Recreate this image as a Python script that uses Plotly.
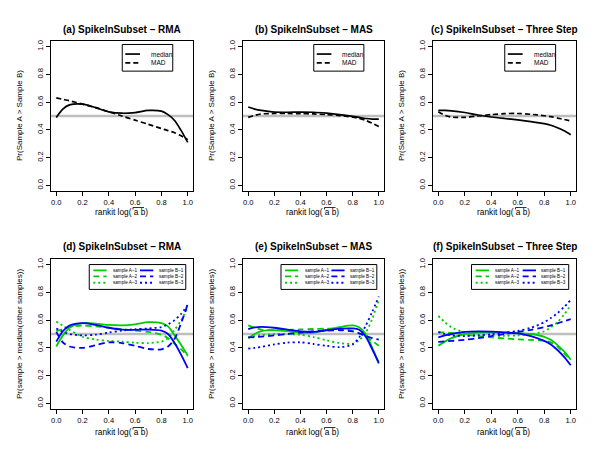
import plotly.graph_objects as go

# ---------------- data ----------------
X = [0, 0.05, 0.1, 0.2, 0.3, 0.4, 0.5, 0.6, 0.7, 0.8, 0.85, 0.9, 0.95, 1.0]

# top row: Pr(Sample A > Sample B)
rma_median = [0.49, 0.55, 0.58, 0.586, 0.56, 0.53, 0.52, 0.525, 0.54, 0.535, 0.51, 0.468, 0.395, 0.31]
rma_mad = [0.63, 0.62, 0.61, 0.585, 0.56, 0.53, 0.50, 0.47, 0.44, 0.41, 0.395, 0.38, 0.357, 0.33]
mas_median = [0.565, 0.55, 0.54, 0.528, 0.527, 0.528, 0.527, 0.52, 0.51, 0.497, 0.49, 0.482, 0.478, 0.478]
mas_mad = [0.49, 0.505, 0.515, 0.518, 0.518, 0.517, 0.515, 0.51, 0.503, 0.492, 0.482, 0.468, 0.448, 0.425]
ts_median = [0.54, 0.54, 0.537, 0.525, 0.507, 0.493, 0.482, 0.472, 0.46, 0.445, 0.433, 0.415, 0.393, 0.365]
ts_mad = [0.53, 0.505, 0.492, 0.49, 0.5, 0.51, 0.517, 0.518, 0.512, 0.502, 0.495, 0.485, 0.475, 0.465]

# bottom row: Pr(sample > median(other samples))
rma_A1 = [0.41, 0.49, 0.545, 0.578, 0.575, 0.565, 0.562, 0.57, 0.585, 0.578, 0.555, 0.49, 0.42, 0.345]
rma_A2 = [0.52, 0.535, 0.55, 0.56, 0.555, 0.545, 0.535, 0.525, 0.515, 0.495, 0.47, 0.43, 0.39, 0.34]
rma_A3 = [0.59, 0.56, 0.53, 0.48, 0.46, 0.45, 0.445, 0.437, 0.435, 0.445, 0.47, 0.53, 0.6, 0.69]
rma_B1 = [0.445, 0.52, 0.56, 0.578, 0.565, 0.545, 0.532, 0.53, 0.532, 0.525, 0.5, 0.435, 0.35, 0.255]
rma_B2 = [0.515, 0.44, 0.41, 0.4, 0.42, 0.44, 0.435, 0.415, 0.392, 0.39, 0.41, 0.465, 0.58, 0.715]
rma_B3 = [0.54, 0.515, 0.5, 0.49, 0.495, 0.51, 0.525, 0.535, 0.54, 0.55, 0.57, 0.6, 0.645, 0.71]

mas_A1 = [0.47, 0.5, 0.52, 0.528, 0.52, 0.51, 0.51, 0.53, 0.55, 0.562, 0.548, 0.5, 0.4, 0.286]
mas_A2 = [0.562, 0.545, 0.532, 0.527, 0.529, 0.533, 0.536, 0.538, 0.536, 0.522, 0.505, 0.48, 0.45, 0.415]
mas_A3 = [0.476, 0.485, 0.492, 0.5, 0.5, 0.495, 0.478, 0.455, 0.435, 0.43, 0.455, 0.51, 0.61, 0.745]
mas_B1 = [0.535, 0.548, 0.552, 0.545, 0.532, 0.518, 0.515, 0.527, 0.538, 0.54, 0.53, 0.48, 0.39, 0.293]
mas_B2 = [0.476, 0.478, 0.481, 0.49, 0.5, 0.51, 0.52, 0.525, 0.527, 0.519, 0.505, 0.485, 0.47, 0.46]
mas_B3 = [0.395, 0.4, 0.407, 0.425, 0.438, 0.44, 0.428, 0.415, 0.405, 0.425, 0.475, 0.56, 0.66, 0.77]

ts_A1 = [0.415, 0.445, 0.47, 0.5, 0.51, 0.512, 0.51, 0.507, 0.5, 0.48, 0.458, 0.42, 0.375, 0.315]
ts_A2 = [0.514, 0.512, 0.508, 0.495, 0.485, 0.475, 0.468, 0.462, 0.457, 0.452, 0.44, 0.41, 0.36, 0.315]
ts_A3 = [0.63, 0.585, 0.548, 0.51, 0.495, 0.488, 0.487, 0.49, 0.498, 0.52, 0.548, 0.585, 0.64, 0.71]
ts_B1 = [0.475, 0.49, 0.5, 0.515, 0.519, 0.517, 0.512, 0.505, 0.485, 0.45, 0.425, 0.385, 0.335, 0.275]
ts_B2 = [0.443, 0.447, 0.45, 0.458, 0.47, 0.485, 0.5, 0.515, 0.53, 0.55, 0.562, 0.577, 0.592, 0.607]
ts_B3 = [0.514, 0.5, 0.49, 0.485, 0.49, 0.498, 0.508, 0.522, 0.545, 0.585, 0.615, 0.65, 0.695, 0.745]

TITLES = ["(a) SpikeInSubset \u2013 RMA", "(b) SpikeInSubset \u2013 MAS", "(c) SpikeInSubset \u2013 Three Step",
          "(d) SpikeInSubset \u2013 RMA", "(e) SpikeInSubset \u2013 MAS", "(f) SpikeInSubset \u2013 Three Step"]
YTITLE_TOP = "Pr(Sample A > Sample B)"
YTITLE_BOTTOM = "Pr(sample > median(other samples))"
TICKS = [0.0, 0.2, 0.4, 0.6, 0.8, 1.0]
TICK_TEXT = ["0.0", "0.2", "0.4", "0.6", "0.8", "1.0"]
TOP_NAMES = ["median", "MAD"]
BOTTOM_NAMES = ["sample A\u20131", "sample A\u20132", "sample A\u20133", "sample B\u20131", "sample B\u20132", "sample B\u20133"]
REF_LEVEL = 0.5

top_series = [(rma_median, rma_mad), (mas_median, mas_mad), (ts_median, ts_mad)]
bottom_series = [(rma_A1, rma_A2, rma_A3, rma_B1, rma_B2, rma_B3),
                 (mas_A1, mas_A2, mas_A3, mas_B1, mas_B2, mas_B3),
                 (ts_A1, ts_A2, ts_A3, ts_B1, ts_B2, ts_B3)]

# ---------------- styling ----------------
W, H = 600, 464
FONT = "Liberation Sans, Arial, Helvetica, sans-serif"
GREEN = "#00CD00"
BLUE = "#0000FF"
GREY = "#BEBEBE"
COLS_PX = [(51, 193), (243, 384), (433, 576)]
ROWS_PX = [(41, 191), (259, 409)]
TOP_DASH = ["solid", "5px,3px"]
BOT_DASH = ["solid", "6px,4px", "2px,3px"]

fig = go.Figure()
layout = dict(template="none", width=W, height=H, margin=dict(l=0, r=0, t=0, b=0, pad=0, autoexpand=False),
              paper_bgcolor="white", plot_bgcolor="white", showlegend=False,
              font=dict(family=FONT, color="black"))
shapes, annotations = [], []


def px_x(p):
    return p / W


def px_y(p):
    return 1 - p / H


for r in range(2):
    for c in range(3):
        i = r * 3 + c
        ax = "" if i == 0 else str(i + 1)
        xa, ya = "x" + ax, "y" + ax
        x0, x1 = COLS_PX[c]
        y0, y1 = ROWS_PX[r]
        common = dict(range=[-0.04, 1.04], tickvals=TICKS, ticktext=TICK_TEXT, showgrid=False, zeroline=False,
                      showline=True, mirror=True, linecolor="black", linewidth=1, ticks="outside",
                      ticklen=4, tickwidth=1, tickcolor="black", automargin=False,
                      tickfont=dict(size=7.6, family=FONT))
        layout["xaxis" + ax] = dict(common, domain=[px_x(x0), px_x(x1)], anchor=ya)
        layout["yaxis" + ax] = dict(common, domain=[px_y(y1), px_y(y0)], anchor=xa, tickangle=-90)

        # reference line
        shapes.append(dict(type="line", xref=xa + " domain", yref=ya, x0=0, x1=1, y0=REF_LEVEL, y1=REF_LEVEL,
                           line=dict(color=GREY, width=2.5), layer="below"))

        if r == 0:
            for k, ys in enumerate(top_series[c]):
                fig.add_trace(go.Scatter(x=X, y=ys, mode="lines", xaxis=xa, yaxis=ya, name=TOP_NAMES[k],
                                         line=dict(color="black", width=1.7, dash=TOP_DASH[k],
                                                   shape="spline", smoothing=0.8)))
            # legend
            shapes.append(dict(type="rect", xref=xa, yref=ya, x0=0.502, x1=0.886, y0=0.823, y1=1.015,
                               line=dict(color="black", width=1), fillcolor="white"))
            for k, yy in enumerate([0.946, 0.883]):
                shapes.append(dict(type="line", xref=xa, yref=ya, x0=0.525, x1=0.637, y0=yy, y1=yy,
                                   line=dict(color="black", width=1.7, dash=TOP_DASH[k])))
                annotations.append(dict(xref=xa, yref=ya, x=0.705, y=yy, text=TOP_NAMES[k], showarrow=False,
                                        xanchor="left", yanchor="middle", font=dict(size=6.5, family=FONT)))
        else:
            for k, ys in enumerate(bottom_series[c]):
                colr = GREEN if k < 3 else BLUE
                fig.add_trace(go.Scatter(x=X, y=ys, mode="lines", xaxis=xa, yaxis=ya, name=BOTTOM_NAMES[k],
                                         line=dict(color=colr, width=1.8, dash=BOT_DASH[k % 3],
                                                   shape="spline", smoothing=0.8)))
            shapes.append(dict(type="rect", xref=xa, yref=ya, x0=0.251, x1=0.985, y0=0.821, y1=1.0,
                               line=dict(color="black", width=1), fillcolor="white"))
            rows_y = [0.958, 0.915, 0.869]
            for k in range(6):
                colr = GREEN if k < 3 else BLUE
                lx0, lx1, tx = (0.282, 0.383, 0.416) if k < 3 else (0.637, 0.738, 0.764)
                yy = rows_y[k % 3]
                shapes.append(dict(type="line", xref=xa, yref=ya, x0=lx0, x1=lx1, y0=yy, y1=yy,
                                   line=dict(color=colr, width=1.8, dash=BOT_DASH[k % 3])))
                annotations.append(dict(xref=xa, yref=ya, x=tx, y=yy, text=BOTTOM_NAMES[k], showarrow=False,
                                        xanchor="left", yanchor="middle", font=dict(size=4.6, family=FONT)))

        cx = (x0 + x1) / 2
        # title
        annotations.append(dict(xref="paper", yref="paper", x=px_x(cx), y=px_y(29 + r * 217), text="<b>" + TITLES[i] + "</b>",
                                showarrow=False, xanchor="center", yanchor="middle", font=dict(size=10, family=FONT)))
        # y title
        annotations.append(dict(xref="paper", yref="paper", x=px_x(x0 - 32), y=px_y((y0 + y1) / 2),
                                text=YTITLE_TOP if r == 0 else YTITLE_BOTTOM, textangle=-90, showarrow=False,
                                xanchor="center", yanchor="middle", font=dict(size=8, family=FONT)))
        # x title with overline
        ty = 212 + r * 220
        annotations.append(dict(xref="paper", yref="paper", x=px_x(cx - 1), y=px_y(ty), text="rankit log( a b)",
                                showarrow=False, xanchor="center", yanchor="middle", font=dict(size=8.3, family=FONT)))
        oy = ty - 4.5
        ox0, ox1 = cx + 11, cx + 22
        shapes.append(dict(type="line", xref="paper", yref="paper", x0=px_x(ox0), x1=px_x(ox1),
                           y0=px_y(oy), y1=px_y(oy), line=dict(color="black", width=0.8)))
        shapes.append(dict(type="line", xref="paper", yref="paper", x0=px_x(ox0), x1=px_x(ox0),
                           y0=px_y(oy), y1=px_y(oy + 2), line=dict(color="black", width=0.8)))

layout["shapes"] = shapes
layout["annotations"] = annotations
fig.update_layout(**layout)
fig.write_html("out.html", config={"displayModeBar": False},
               post_script="document.body.style.margin='0';")
